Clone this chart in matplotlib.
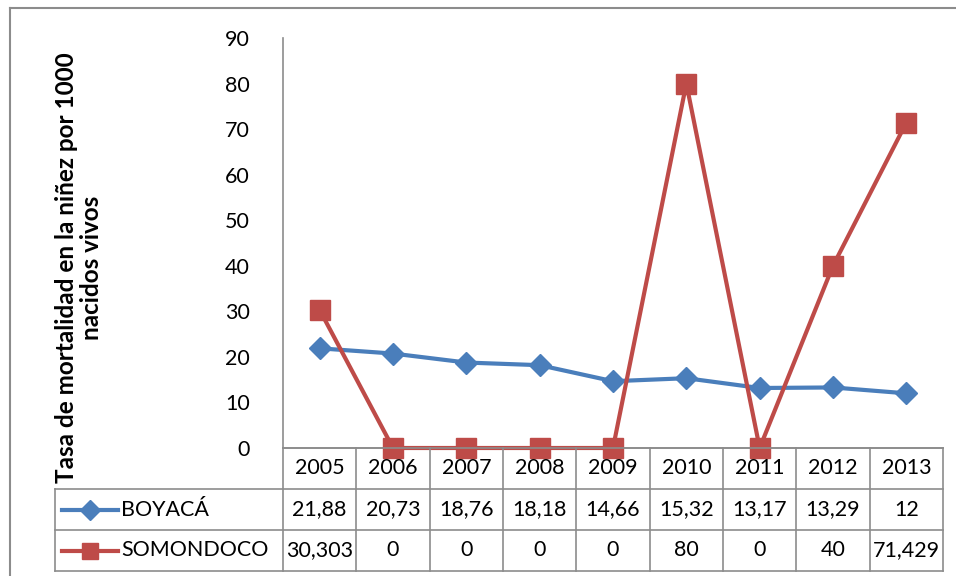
import matplotlib.pyplot as plt
from matplotlib.lines import Line2D

plt.rcParams['font.family'] = ['Lato', 'DejaVu Sans']

# datos
anios = ['2005', '2006', '2007', '2008', '2009', '2010', '2011', '2012', '2013']
boyaca = [21.88, 20.73, 18.76, 18.18, 14.66, 15.32, 13.17, 13.29, 12]
somondoco = [30.303, 0, 0, 0, 0, 80, 0, 40, 71.429]
boyaca_txt = ['21,88', '20,73', '18,76', '18,18', '14,66', '15,32', '13,17', '13,29', '12']
somondoco_txt = ['30,303', '0', '0', '0', '0', '80', '0', '40', '71,429']
series = ['BOYACÁ', 'SOMONDOCO']

azul = '#4A7EBB'
rojo = '#BE4B48'
gris = '#8C8C8C'

W, H = 956, 576
fig = plt.figure(figsize=(W / 100, H / 100), dpi=100)

# posiciones en pixeles
x0, x1 = 283, 943
y_top, y_bot = 38, 448
legend_x = 55
row_h = 41
fs = 15.5

ax = fig.add_axes([x0 / W, 1 - y_bot / H, (x1 - x0) / W, (y_bot - y_top) / H])
xs = list(range(len(anios)))
ax.plot(xs, boyaca, color=azul, lw=3, marker='D', ms=11, clip_on=False, zorder=3)
ax.plot(xs, somondoco, color=rojo, lw=3, marker='s', ms=14, clip_on=False, zorder=4)
ax.set_xlim(-0.5, len(anios) - 0.5)
ax.set_ylim(0, 90)
ax.set_yticks(range(0, 91, 10))
ax.set_xticks([])
ax.tick_params(axis='y', length=0, labelsize=fs, pad=24)
for s in ['top', 'right']:
    ax.spines[s].set_visible(False)
ax.spines['left'].set_color(gris)
ax.spines['bottom'].set_color(gris)
ax.spines['left'].set_linewidth(1.2)
ax.spines['bottom'].set_linewidth(1.2)

fig.text(79 / W, 1 - 268 / H, 'Tasa de mortalidad en la niñez por 1000\nnacidos vivos',
         rotation=90, ha='center', va='center', fontsize=17.5, fontweight='bold',
         linespacing=1.1)

# tabla de datos
tab = fig.add_axes([0, 0, 1, 1])
tab.set_xlim(0, W)
tab.set_ylim(H, 0)
tab.axis('off')

col_w = (x1 - x0) / len(anios)
rows_y = [y_bot, y_bot + row_h, y_bot + 2 * row_h, y_bot + 3 * row_h]
lkw = dict(color=gris, lw=1.2)
# horizontales
tab.plot([x0, x1], [rows_y[0], rows_y[0]], **lkw)
for y in rows_y[1:]:
    tab.plot([legend_x, x1], [y, y], **lkw)
# verticales
for i in range(len(anios) + 1):
    xe = x0 + i * col_w
    tab.plot([xe, xe], [rows_y[0], rows_y[3]], **lkw)
tab.plot([legend_x, legend_x], [rows_y[1], rows_y[3]], **lkw)

for i, a in enumerate(anios):
    cx = x0 + (i + 0.5) * col_w
    tab.text(cx, (rows_y[0] + rows_y[1]) / 2, a, ha='center', va='center', fontsize=fs)
    tab.text(cx, (rows_y[1] + rows_y[2]) / 2, boyaca_txt[i], ha='center', va='center', fontsize=fs)
    tab.text(cx, (rows_y[2] + rows_y[3]) / 2, somondoco_txt[i], ha='center', va='center', fontsize=fs)

for k, (nombre, col, mk, ms) in enumerate([(series[0], azul, 'D', 10), (series[1], rojo, 's', 12)]):
    yc = (rows_y[k + 1] + rows_y[k + 2]) / 2
    tab.add_line(Line2D([62, 118], [yc, yc], color=col, lw=3))
    tab.plot([90], [yc], marker=mk, color=col, ms=ms)
    tab.text(121, yc, nombre, ha='left', va='center', fontsize=fs)

# borde del grafico
tab.plot([10, W], [8, 8], color=gris, lw=1.5)
tab.plot([10, 10], [8, H], color=gris, lw=1.5)

fig.savefig('out.png', dpi=100)
